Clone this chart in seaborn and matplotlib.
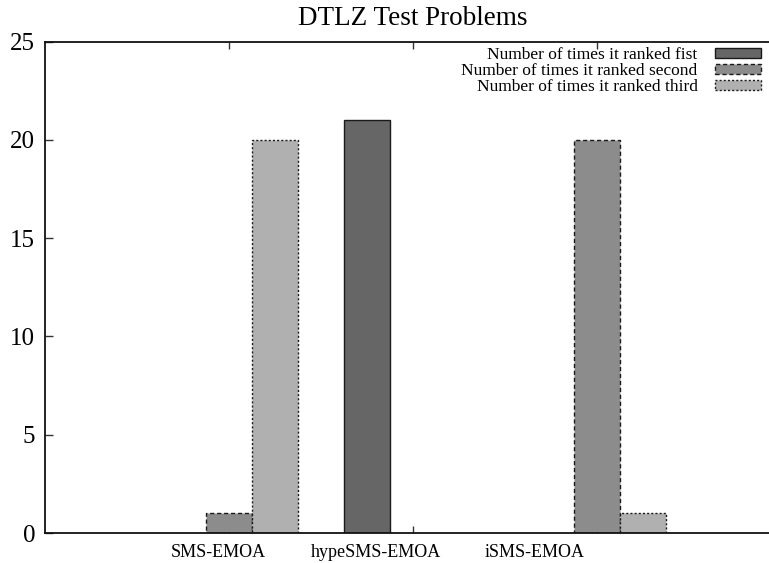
import numpy as np
import pandas as pd
import seaborn as sns
import matplotlib.pyplot as plt
from matplotlib.patches import Patch

# data
algorithms = ["SMS-EMOA", "hypeSMS-EMOA", "iSMS-EMOA"]
series = [
    "Number of times it ranked fist",
    "Number of times it ranked second",
    "Number of times it ranked third",
]
ranked_first = [0, 21, 0]
ranked_second = [1, 0, 20]
ranked_third = [20, 0, 1]

# gnuplot puts the tick labels a bit off the group centres
label_pos = [-0.06, 0.80, 1.66]

colors = ["#666666", "#8c8c8c", "#b0b0b0"]
styles = ["-", (0, (3, 2)), (0, (1.5, 1.5))]

df = pd.DataFrame(
    {
        "algorithm": algorithms * 3,
        "series": np.repeat(series, 3),
        "count": ranked_first + ranked_second + ranked_third,
    }
)

sns.set_style("ticks")
plt.rcParams["font.family"] = ["Liberation Serif", "DejaVu Serif"]
plt.rcParams["text.color"] = "black"
plt.rcParams["xtick.labelcolor"] = "black"
plt.rcParams["ytick.labelcolor"] = "black"

fig = plt.figure(figsize=(7.69, 5.63), dpi=100)
# axes run a little past the right edge, like the cropped gnuplot output
ax = fig.add_axes([45 / 769, 30 / 563, 736 / 769, 491.5 / 563])

sns.barplot(
    data=df,
    x="algorithm",
    y="count",
    hue="series",
    order=algorithms,
    hue_order=series,
    palette=colors,
    width=0.75,
    saturation=1,
    legend=False,
    ax=ax,
)

for cont, ls in zip(ax.containers, styles):
    for bar in cont:
        bar.set_edgecolor("#1a1a1a")
        bar.set_linewidth(1.0)
        bar.set_linestyle(ls)
        if bar.get_height() == 0:
            bar.set_visible(False)

ax.set_xlim(-1, 3)
ax.set_ylim(0, 25)
ax.set_yticks(range(0, 26, 5))
ax.set_xticks([0, 1, 2], ["", "", ""])
ax.set_xticks(label_pos, algorithms, minor=True)
ax.tick_params(axis="x", which="major", direction="in", length=5, width=1,
               top=True, bottom=True, color="#333333")
ax.tick_params(axis="x", which="minor", length=0, labelsize=13, pad=8,
               labelcolor="black")
ax.tick_params(axis="y", direction="in", length=6, width=1, labelsize=18,
               pad=7, color="#333333", labelcolor="black")
for sp in ax.spines.values():
    sp.set_visible(True)
    sp.set_linewidth(1.3)
    sp.set_color("#111111")

ax.set_xlabel("")
ax.set_ylabel("")
ax.set_title("DTLZ Test Problems", fontsize=19.5, pad=12, color="black")

handles = [
    Patch(facecolor=c, edgecolor="#1a1a1a", linestyle=ls, linewidth=1.0)
    for c, ls in zip(colors, styles)
]
fig.legend(
    handles,
    series,
    loc="upper right",
    bbox_to_anchor=(761 / 769, 1 - 47 / 563),
    frameon=False,
    markerfirst=False,
    fontsize=12.5,
    handlelength=2.65,
    handleheight=0.5,
    handletextpad=1.0,
    labelspacing=0.0,
    borderaxespad=0,
    borderpad=0,
)

fig.savefig("out.png", dpi=100)
